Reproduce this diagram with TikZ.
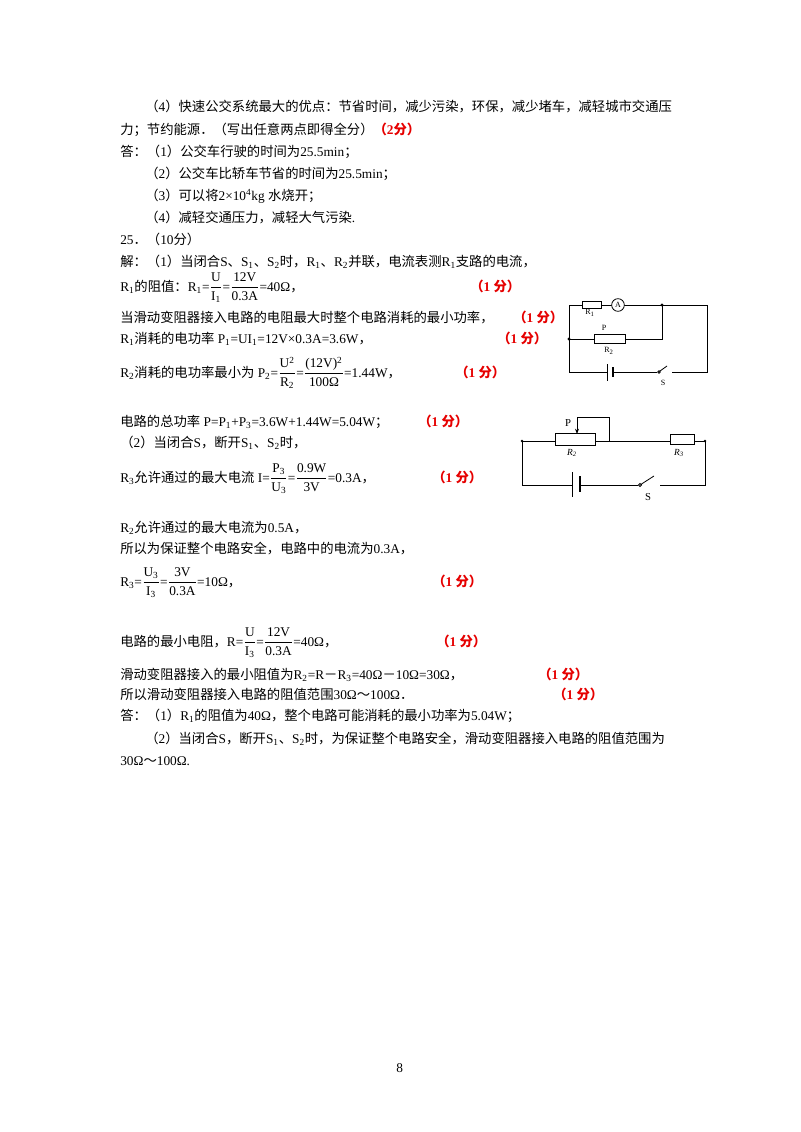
\documentclass[tikz,border=0pt]{standalone}
\usetikzlibrary{arrows.meta}
\usepackage{fontspec}
\setmainfont{Liberation Serif}
\newfontfamily\cjkfont{Noto Sans CJK SC}
\newfontfamily\latinfont{Liberation Serif}
\XeTeXinterchartokenstate=1
\newXeTeXintercharclass\cjkcls
\newcount\cc
\def\setrange#1#2{\cc=#1 \loop\XeTeXcharclass\cc=\cjkcls \ifnum\cc<#2 \advance\cc 1 \repeat}
\setrange{"3000}{"303F}
\setrange{"4E00}{"9FFF}
\setrange{"FF00}{"FFEF}
\XeTeXinterchartoks 0 \cjkcls = {\cjkfont}
\XeTeXinterchartoks 4095 \cjkcls = {\cjkfont}
\XeTeXinterchartoks \cjkcls 0 = {\latinfont}
\XeTeXinterchartoks \cjkcls 4095 = {\latinfont}
\newcommand\fr[2]{$\displaystyle\frac{\mbox{#1}}{\mbox{#2}}$}
\newcommand\sub[1]{\textsubscript{#1}}
\definecolor{mark}{RGB}{230,0,0}
\newcommand\pt[1]{\textcolor{mark}{\bfseries #1}}
\begin{document}
\begin{tikzpicture}[x=0.75pt,y=-0.75pt,
  t/.style={anchor=base west,inner sep=0pt,font=\fontsize{10}{12}\selectfont},
  sc/.style={anchor=center,inner sep=0pt,font=\fontsize{6}{7}\selectfont},
  w/.style={line width=0.6pt},
  res/.style={draw,line width=0.6pt,fill=white},
  dot/.style={circle,fill,inner sep=0pt,minimum size=2.5pt}]
\useasboundingbox[fill=white] (0,0) rectangle (800,1132);
\node[t] (l1) at (145,111) {（4）快速公交系统最大的优点：节省时间，减少污染，环保，减少堵车，减轻城市交通压};
\node[t] (l2) at (120,134) {力；节约能源．（写出任意两点即得全分）\pt{（2分）}};
\node[t] (l3) at (120,156) {答：（1）公交车行驶的时间为25.5min；};
\node[t] (l4) at (145,178) {（2）公交车比轿车节省的时间为25.5min；};
\node[t] (l5) at (145,200) {（3）可以将2×10\textsuperscript{4}kg 水烧开；};
\node[t] (l6) at (145,222) {（4）减轻交通压力，减轻大气污染.};
\node[t] (l7) at (120,244) {25．（10分）};
\node[t] (l8) at (120,266) {解：（1）当闭合S、S\sub1、S\sub2时，R\sub1、R\sub2并联，电流表测R\sub1支路的电流，};
\node[t] (l9) at (120,291) {R\sub1的阻值：R\sub1=\fr{U}{I\sub1}=\fr{12V}{0.3A}=40Ω，};
\node[t] (m9) at (470,291) {\pt{（1 分）}};
\node[t] (l10) at (120,322) {当滑动变阻器接入电路的电阻最大时整个电路消耗的最小功率，};
\node[t] (m10) at (513,322) {\pt{（1 分）}};
\node[t] (l11) at (120,343) {R\sub1消耗的电功率 P\sub1=UI\sub1=12V×0.3A=3.6W，};
\node[t] (m11) at (497,343) {\pt{（1 分）}};
\node[t] (l12) at (120,377) {R\sub2消耗的电功率最小为 P\sub2=\fr{U\textsuperscript2}{R\sub2}=\fr{(12V)\textsuperscript{2}}{100Ω}=1.44W，};
\node[t] (m12) at (455,377) {\pt{（1 分）}};
\node[t] (l13) at (120,426) {电路的总功率 P=P\sub1+P\sub3=3.6W+1.44W=5.04W；};
\node[t] (m13) at (418,426) {\pt{（1 分）}};
\node[t] (l14) at (120,447) {（2）当闭合S，断开S\sub1、S\sub2时，};
\node[t] (l15) at (120,482) {R\sub3允许通过的最大电流 I=\fr{P\sub3}{U\sub3}=\fr{0.9W}{3V}=0.3A，};
\node[t] (m15) at (432,482) {\pt{（1 分）}};
\node[t] (l16) at (120,532) {R\sub2允许通过的最大电流为0.5A，};
\node[t] (l17) at (120,553) {所以为保证整个电路安全，电路中的电流为0.3A，};
\node[t] (l18) at (120,586) {R\sub3=\fr{U\sub3}{I\sub3}=\fr{3V}{0.3A}=10Ω，};
\node[t] (m18) at (432,586) {\pt{（1 分）}};
\node[t] (l19) at (120,646) {电路的最小电阻，R=\fr{U}{I\sub3}=\fr{12V}{0.3A}=40Ω，};
\node[t] (m19) at (436,646) {\pt{（1 分）}};
\node[t] (l20) at (120,679) {滑动变阻器接入的最小阻值为R\sub2=R－R\sub3=40Ω－10Ω=30Ω，};
\node[t] (m20) at (538,679) {\pt{（1 分）}};
\node[t] (l21) at (120,699) {所以滑动变阻器接入电路的阻值范围30Ω～100Ω．};
\node[t] (m21) at (553,699) {\pt{（1 分）}};
\node[t] (l22) at (120,720) {答：（1）R\sub1的阻值为40Ω，整个电路可能消耗的最小功率为5.04W；};
\node[t] (l23) at (145,743) {（2）当闭合S，断开S\sub1、S\sub2时，为保证整个电路安全，滑动变阻器接入电路的阻值范围为};
\node[t] (l24) at (120,765) {30Ω～100Ω.};
\node[t] (pg) at (396,1072) {8};

% circuit 1
\coordinate (a1) at (569,305); \coordinate (a2) at (707,305);
\coordinate (a3) at (707,372); \coordinate (a4) at (569,372);
\coordinate (j1) at (662,305); \coordinate (j2) at (662,339);
\coordinate (j3) at (569,339);
\draw[w] (a1) -- (a2) -- (a3) -- (672,372);
\draw[w] (657,372) -- (613,372);
\draw[w] (607,372) -- (a4) -- (a1);
\draw[w] (j3) -- (j2) -- (j1);
\node[res,minimum width=19pt*0.75,minimum height=7pt*0.75,inner sep=0pt] (r1) at (592,305) {};
\node[draw,circle,w,fill=white,inner sep=0pt,minimum size=9.5pt,font=\fontsize{6}{7}\selectfont] (am) at (618,305) {A};
\node[res,minimum width=23pt,minimum height=7pt,inner sep=0pt] (r2) at (610,339) {};
\node[dot] (d1) at (j1) {}; \node[dot] (d2) at (j3) {};
\node[sc] (lr1) at (590,313) {R\sub1};
\node[sc] (lp1) at (604,328) {P};
\node[sc] (lr2) at (609,351) {R\sub2};
\draw[line width=0.6pt] (607,364) -- (607,381);
\draw[line width=1.6pt] (613,367) -- (613,377);
\draw[w] (659,372) circle (1.3) (660,371) -- (667,366);
\node[sc] (ls1) at (663,383) {S};

% circuit 2
\coordinate (b1) at (522,441); \coordinate (b2) at (705,441);
\coordinate (b3) at (705,485); \coordinate (b4) at (522,485);
\coordinate (p1) at (577,417); \coordinate (p2) at (609,417); \coordinate (p3) at (609,441);
\draw[w] (b1) -- (555,441);
\draw[w] (595,441) -- (b2) -- (b3) -- (660,485);
\draw[w] (638,485) -- (580,485);
\draw[w] (572,485) -- (b4) -- (b1);
\node[res,minimum width=30pt,minimum height=8.5pt,inner sep=0pt] (rr2) at (575,439.5) {};
\node[res,minimum width=18pt,minimum height=8pt,inner sep=0pt] (rr3) at (682,439.5) {};
\draw[w] (p3) -- (p2) -- (p1);
\draw[w,-{Stealth[length=4pt,width=3pt]}] (p1) -- (577,434);
\node[dot,minimum size=2pt] (e1) at (b1) {}; \node[dot,minimum size=2pt] (e2) at (b2) {};
\node[anchor=center,inner sep=0pt,font=\fontsize{8}{9}\selectfont] (lp2) at (568,423) {P};
\node[sc,font=\fontsize{7}{8}\selectfont\itshape] (lr22) at (572,453) {R\sub2};
\node[sc,font=\fontsize{7}{8}\selectfont\itshape] (lr3) at (679,453) {R\sub3};
\draw[line width=0.6pt] (572,472) -- (572,497);
\draw[line width=1.4pt] (580,476) -- (580,492);
\draw[w] (640,485) circle (1.5) (641.5,484) -- (654,476);
\node[anchor=center,inner sep=0pt,font=\fontsize{8}{9}\selectfont] (ls2) at (648,497) {S};
\end{tikzpicture}
\end{document}
